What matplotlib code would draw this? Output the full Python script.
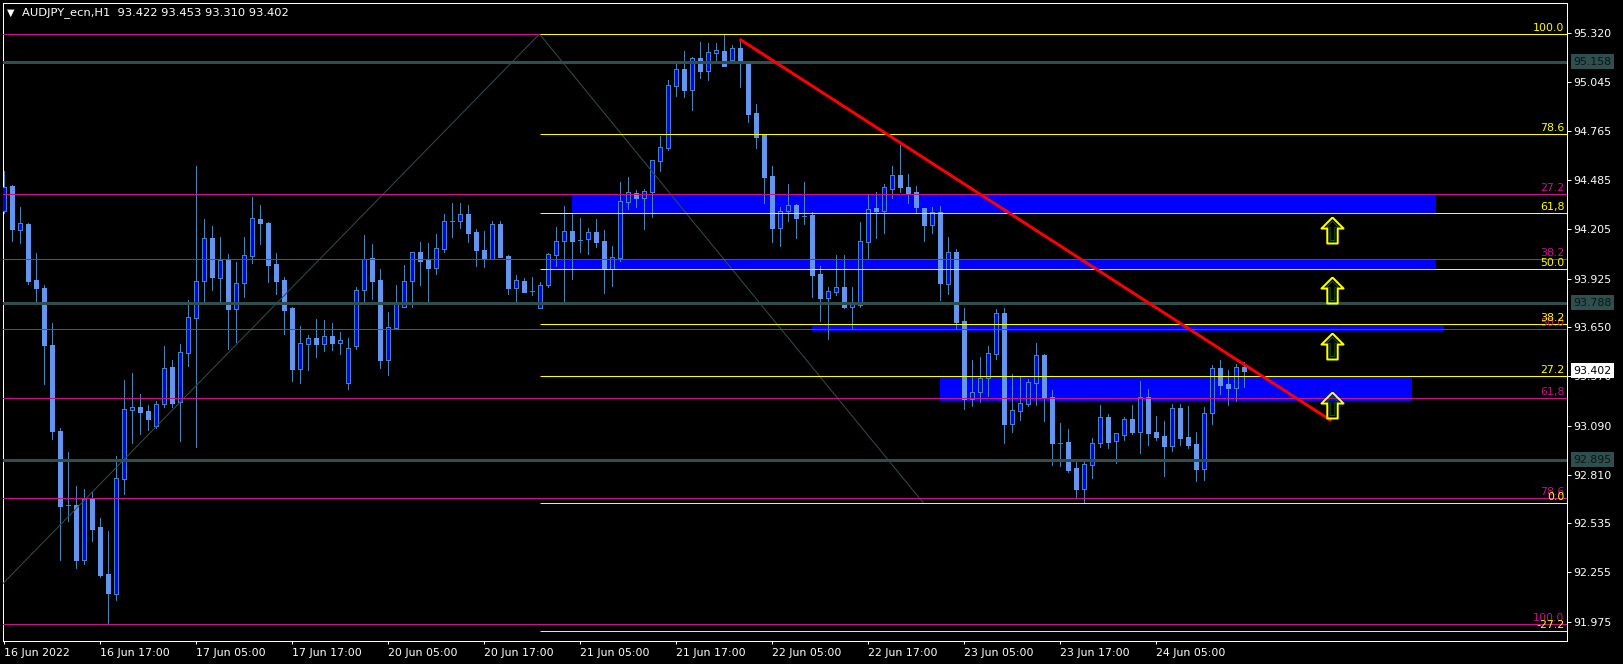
import matplotlib
matplotlib.use("Agg")
import matplotlib.pyplot as plt
import numpy as np

#---Candle data (AUDJPY H1)---
opens = [94.309,94.452,94.201,94.236,93.917,93.872,93.548,93.059,92.638,92.638,92.325,92.672,92.513,92.246,92.132,92.786,
         93.178,93.195,93.173,93.087,93.212,93.423,93.224,93.502,93.701,93.912,94.156,93.929,94.031,93.752,93.900,94.054,
         94.264,94.241,94.008,93.917,93.758,93.411,93.553,93.588,93.553,93.599,93.559,93.332,93.542,93.860,94.042,93.917,
         93.463,93.644,93.764,93.912,94.076,94.037,93.985,94.093,94.253,94.253,94.292,94.190,94.088,94.037,94.236,94.054,
         93.872,93.912,93.855,93.758,93.889,94.059,94.139,94.196,94.145,94.150,94.190,94.139,93.980,94.042,94.361,94.412,
         94.383,94.417,94.594,94.668,95.020,95.117,94.997,95.179,95.105,95.208,95.219,95.168,95.236,95.162,94.867,94.742,
         94.508,94.213,94.309,94.344,94.281,94.287,93.951,93.815,93.849,93.877,93.764,93.775,94.133,94.327,94.309,94.435,
         94.514,94.446,94.417,94.327,94.230,94.304,93.894,94.076,93.684,93.241,93.281,93.360,93.497,93.730,93.099,93.173,
         93.212,93.332,93.491,93.252,92.991,92.996,92.848,92.729,92.865,92.991,93.138,93.002,93.036,93.127,93.053,93.252,
         93.053,93.030,92.973,93.190,93.025,92.985,92.843,93.161,93.417,93.326,93.303,93.422]
highs = [94.537,94.457,94.332,94.241,94.071,93.889,93.673,93.076,92.939,92.746,92.729,92.712,92.564,92.490,92.917,93.349,
         93.389,93.269,93.207,93.229,93.542,93.463,93.553,93.804,94.565,94.264,94.224,94.162,94.065,94.020,94.162,94.389,
         94.344,94.247,94.071,93.934,93.764,93.656,93.605,93.695,93.690,93.673,93.622,93.588,93.877,94.173,94.122,93.980,
         93.735,93.889,94.002,94.076,94.133,94.128,94.179,94.292,94.355,94.355,94.344,94.207,94.196,94.253,94.253,94.059,
         93.946,93.929,93.934,93.906,94.071,94.218,94.338,94.292,94.270,94.213,94.264,94.201,94.110,94.474,94.503,94.429,
         94.435,94.599,94.736,95.054,95.151,95.219,95.185,95.270,95.265,95.265,95.316,95.253,95.282,95.162,94.918,94.742,
         94.565,94.332,94.463,94.349,94.474,94.304,93.997,93.877,94.059,94.059,93.877,94.247,94.406,94.417,94.463,94.565,
         94.685,94.520,94.452,94.327,94.332,94.338,94.162,94.093,93.758,93.463,93.480,93.542,93.752,93.758,93.383,93.366,
         93.355,93.559,93.497,93.292,93.104,93.070,92.888,92.888,93.019,93.207,93.156,93.047,93.138,93.207,93.343,93.297,
         93.144,93.116,93.212,93.212,93.201,93.053,93.195,93.434,93.463,93.406,93.440,93.453]
lows = [94.298,94.139,94.128,93.894,93.786,93.326,93.013,92.325,92.547,92.280,92.303,92.433,92.229,91.962,92.098,92.701,
        92.991,93.042,93.065,93.076,93.195,93.195,93.002,93.428,92.968,93.792,93.860,93.792,93.525,93.565,93.821,94.014,
        94.122,93.906,93.838,93.610,93.343,93.332,93.406,93.480,93.514,93.519,93.497,93.297,93.525,93.786,93.809,93.417,
        93.377,93.639,93.764,93.764,93.889,93.786,93.951,94.076,94.162,94.213,94.133,93.997,93.991,94.037,94.048,93.838,
        93.786,93.849,93.832,93.758,93.877,93.997,93.792,93.923,94.076,94.065,94.105,93.843,93.883,94.025,94.321,94.332,
        94.207,94.275,94.537,94.656,94.963,94.958,94.884,95.066,95.054,95.168,95.134,95.168,95.014,94.815,94.668,94.355,
        94.133,94.110,94.253,94.156,94.236,93.821,93.684,93.582,93.832,93.758,93.639,93.764,94.037,94.156,94.184,94.383,
        94.417,94.355,94.304,94.139,94.184,93.804,93.838,93.639,93.184,93.201,93.224,93.258,93.468,92.991,93.053,93.121,
        93.201,93.207,93.116,92.865,92.860,92.826,92.678,92.649,92.791,92.968,92.962,92.877,93.008,93.042,92.934,92.979,
        93.008,92.803,92.945,92.979,92.962,92.774,92.780,93.099,93.269,93.207,93.229,93.310]
closes = [94.446,94.207,94.241,93.912,93.872,93.548,93.059,92.632,92.638,92.325,92.672,92.502,92.240,92.138,92.791,93.184,
          93.195,93.167,93.127,93.212,93.417,93.218,93.508,93.707,93.912,94.156,93.934,94.031,93.752,93.900,94.059,94.270,
          94.241,94.002,93.912,93.747,93.411,93.559,93.588,93.553,93.599,93.559,93.576,93.531,93.860,94.037,93.912,93.463,
          93.650,93.786,93.912,94.076,94.025,93.985,94.099,94.253,94.253,94.292,94.184,94.088,94.037,94.236,94.048,93.872,
          93.917,93.849,93.855,93.889,94.065,94.139,94.196,94.139,94.145,94.190,94.133,93.980,94.048,94.366,94.417,94.383,
          94.423,94.599,94.673,95.026,95.117,94.997,95.179,95.105,95.213,95.225,95.134,95.236,95.157,94.861,94.730,94.503,
          94.213,94.309,94.344,94.270,94.281,93.946,93.815,93.855,93.877,93.764,93.786,94.139,94.321,94.309,94.446,94.514,
          94.446,94.412,94.332,94.230,94.304,93.900,94.076,93.678,93.241,93.281,93.360,93.502,93.730,93.099,93.178,93.218,
          93.337,93.491,93.246,92.991,92.991,92.837,92.729,92.871,92.991,93.138,92.996,93.047,93.127,93.053,93.252,93.047,
          93.025,92.973,93.190,93.019,92.979,92.843,93.161,93.417,93.320,93.303,93.423,93.402]

#---Axis labels---
price_ticks = [95.320,95.045,94.765,94.485,94.205,93.925,93.650,93.370,93.090,92.810,92.535,92.255,91.975]
time_ticks = [0,12,24,36,48,60,72,84,96,108,120,132,144]
time_labels = ["16 Jun 2022","16 Jun 17:00","17 Jun 05:00","17 Jun 17:00","20 Jun 05:00","20 Jun 17:00","21 Jun 05:00",
               "21 Jun 17:00","22 Jun 05:00","22 Jun 17:00","23 Jun 05:00","23 Jun 17:00","24 Jun 05:00"]

#---Levels and drawing objects---
grey_levels = [95.158,93.788,92.895]
magenta_levels = [94.405,94.035,93.637,93.245,92.677,91.960]
magenta_labels = ["27.2","38.2","50.0","61,8","78.6","100.0"]
magenta_top = 95.314
yellow_levels = [95.314,94.746,94.297,93.979,93.666,93.370,92.648,91.920]
yellow_labels = ["100.0","78.6","61,8","50.0","38.2","27.2","0.0","-27.2"]
fib_start = 67

zone_start = [71,68,101,117]
zone_end = [179,179,180,176]
zone_top = [94.405,94.035,93.666,93.370]
zone_bottom = [94.297,93.979,93.628,93.230]

swing_x = [-5,67,115]
swing_y = [91.962,95.316,92.649]
trend_x = [92,166]
trend_y = [95.287,93.117]
arrow_x = [166,166,166,166]
arrow_y = [94.203,93.862,93.544,93.208]

last_price = 93.402
title = "AUDJPY_ecn,H1  93.422 93.453 93.310 93.402"

BULL = "#0000FF"
BEAR = "#6495ED"
WICK = "#4682B4"
MAGENTA = "#C71585"
GREY = "#2F4F4F"
PX = 0.72  # one pixel in points at dpi 100

plt.rcParams['font.family'] = 'DejaVu Sans'
plt.rcParams['font.size'] = 7.9

fig = plt.figure(figsize=(16.23, 6.64), dpi=100, facecolor="black")
ax = fig.add_axes([2.5/1623, 23.5/664, 1564/1623, 638/664], facecolor="black")

#---Zones---
for a, b, t, u in zip(zone_start, zone_end, zone_top, zone_bottom):
    ax.fill_between([a, b], [u, u], [t, t], color=BULL, lw=0, zorder=1, antialiased=False)

#---Candles---
x = np.arange(len(opens))
o = np.array(opens)
c = np.array(closes)
up = c >= o
ax.vlines(x, lows, highs, colors=WICK, lw=PX, zorder=2, antialiased=False)
ax.bar(x[up], (c - o)[up], 0.5, bottom=o[up], color=BULL, edgecolor=WICK, lw=PX, zorder=3, antialiased=False)
ax.bar(x[~up], (o - c)[~up], 0.5, bottom=c[~up], color=BEAR, edgecolor=BEAR, lw=PX, zorder=3, antialiased=False)

#---Lines on top---
ax.plot(swing_x, swing_y, color=GREY, lw=PX, zorder=4)
ax.hlines(magenta_top, -1, fib_start, colors=MAGENTA, lw=PX, zorder=5)
for lvl in magenta_levels:
    ax.axhline(lvl, color=MAGENTA, lw=PX, zorder=5)
ax.hlines(yellow_levels, fib_start, 196, colors="yellow", lw=PX, zorder=5)
for lvl in grey_levels:
    ax.axhline(lvl, color=GREY, lw=3*PX, zorder=6)
ax.plot(trend_x, trend_y, color="red", lw=3*PX, zorder=7, solid_capstyle="butt")

#---Arrows---
arrow = [(0,1),(0.85,0.15),(0.4,0.15),(0.4,-1),(-0.4,-1),(-0.4,0.15),(-0.85,0.15),(0,1)]
inner = [(0,0.78),(0.52,0.27),(0.2,0.27),(0.2,-0.85),(-0.2,-0.85),(-0.2,0.27),(-0.52,0.27),(0,0.78)]
ax.plot(arrow_x, arrow_y, ls="", marker=inner, ms=20*PX, mfc="none", mec="#0A5A0A", mew=PX, zorder=8)
ax.plot(arrow_x, arrow_y, ls="", marker=arrow, ms=26*PX, mfc="none", mec="yellow", mew=2*PX, zorder=9)

#---Fibo labels---
for lvl, txt in zip(magenta_levels, magenta_labels):
    ax.annotate(txt, (1, lvl), xycoords=ax.get_yaxis_transform(), xytext=(-2, 1), textcoords="offset pixels",
                ha="right", va="bottom", color=MAGENTA, zorder=10)
for lvl, txt in zip(yellow_levels, yellow_labels):
    ax.annotate(txt, (1, lvl), xycoords=ax.get_yaxis_transform(), xytext=(-2, 1), textcoords="offset pixels",
                ha="right", va="bottom", color="yellow", zorder=11)

#---Axes---
ax.set_xlim(-0.125, 195.375)
ax.set_ylim(91.868, 95.495)
ax.yaxis.tick_right()
ax.set_yticks(price_ticks, [f"{p:.3f}" for p in price_ticks])
ax.set_xticks(time_ticks, time_labels, ha="left")
ax.tick_params(colors="white", length=3*PX, width=PX, labelsize=7.9)
ax.tick_params(axis="y", pad=2.2, length=4*PX)
ax.tick_params(axis="x", pad=3)
for s in ax.spines.values():
    s.set_color("white")
    s.set_linewidth(PX)

#---Price boxes on the axis---
for lvl in grey_levels:
    ax.annotate(f"{lvl:.3f}", (1, lvl), xycoords=ax.get_yaxis_transform(), xytext=(7, 0), textcoords="offset pixels",
                va="center", color="#0C1414", annotation_clip=False, zorder=12,
                bbox=dict(boxstyle="square,pad=0.22", fc=GREY, ec="none"))
ax.annotate(f"{last_price:.3f}", (1, last_price), xycoords=ax.get_yaxis_transform(), xytext=(7, 0),
            textcoords="offset pixels", va="center", color="black", annotation_clip=False, zorder=12,
            bbox=dict(boxstyle="square,pad=0.22", fc="white", ec="none"))

#---Header---
fig.text(21.5/1623, 1 - 12.7/664, title, color="white", va="center", ha="left", fontsize=8.25)
fig.text(10.5/1623, 1 - 12.7/664, "\u25BC", color="white", va="center", ha="center", fontsize=7)

fig.savefig("out.png", dpi=100, facecolor="black")
